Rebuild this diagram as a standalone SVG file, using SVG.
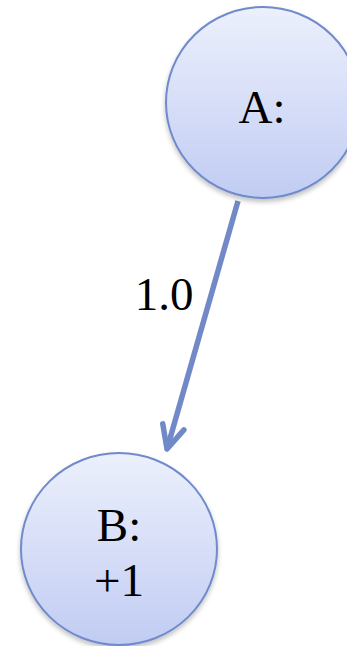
<svg xmlns="http://www.w3.org/2000/svg" width="347" height="646" viewBox="0 0 347 646">
  <defs>
    <linearGradient id="nodeFill" x1="0" y1="0" x2="0" y2="1">
      <stop offset="0" stop-color="#ecf0fc"/>
      <stop offset="1" stop-color="#c1ccf3"/>
    </linearGradient>
    <filter id="shadow" x="-20%" y="-20%" width="140%" height="140%">
      <feGaussianBlur in="SourceAlpha" stdDeviation="2.5"/>
      <feOffset dx="0" dy="3" result="b"/>
      <feComponentTransfer><feFuncA type="linear" slope="0.25"/></feComponentTransfer>
      <feMerge><feMergeNode/><feMergeNode in="SourceGraphic"/></feMerge>
    </filter>
    <marker id="arrow" viewBox="-30 -20 34 40" refX="0" refY="0" markerWidth="34" markerHeight="40" orient="auto" markerUnits="userSpaceOnUse">
      <path d="M-23,-11 L0,0 L-23,11" fill="none" stroke="#7189c6" stroke-width="5.5" stroke-linecap="round" stroke-linejoin="round"/>
    </marker>
  </defs>
  <style>
    .node { fill: url(#nodeFill); stroke: #6f8acb; stroke-width: 2; filter: url(#shadow); }
    .label { font-family: "Liberation Serif", "Times New Roman", serif; font-size: 47px; fill: #000; text-anchor: middle; }
    .edge { stroke: #7189c6; stroke-width: 5.5; fill: none; }
  </style>

  <g id="connectors">
    <line class="edge" x1="238" y1="201" x2="167" y2="449" marker-end="url(#arrow)"/>
    <text class="label" x="164" y="310">1.0</text>
  </g>

  <g id="node-A">
    <ellipse class="node" cx="263" cy="102.5" rx="97" ry="95.5"/>
    <text class="label" x="262" y="123">A:</text>
  </g>

  <g id="node-B">
    <ellipse class="node" cx="119" cy="549" rx="98" ry="96"/>
    <text class="label" x="119" y="541">B:</text>
    <text class="label" x="119" y="596">+1</text>
  </g>
</svg>
